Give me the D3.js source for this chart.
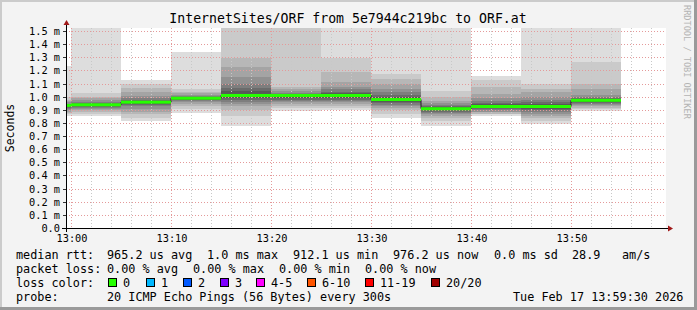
<!DOCTYPE html>
<html>
<head>
<meta charset="utf-8">
<script src="https://cdn.jsdelivr.net/npm/d3@7"></script>
<style>
  body { margin: 0; background: #f3f3f3; }
  text { font-family: "DejaVu Sans Mono", monospace; fill: #000; white-space: pre; }
</style>
</head>
<body>
<div id="chart"></div>
<script>
// step end times (each step covers the 5 minutes before it)
var stepTimes = ["12:55","13:00","13:05","13:10","13:15","13:20","13:25","13:30","13:35","13:40","13:45","13:50","13:55"];
// median rtt per step, ms
var medianRtt = [0.937, 0.942, 0.962, 0.992, 1.013, 1.013, 1.013, 0.982, 0.912, 0.929, 0.929, 0.976];
// 20 sorted pings per step, ms (high -> low)
var pings = [
  [1.241, 1.00, 0.98, 0.97, 0.96, 0.95, 0.945, 0.94, 0.938, 0.937, 0.935, 0.93, 0.925, 0.92, 0.91, 0.90, 0.89, 0.88, 0.87, 0.86],
  [1.90, 1.03, 1.00, 0.99, 0.975, 0.965, 0.955, 0.95, 0.945, 0.942, 0.94, 0.935, 0.93, 0.925, 0.92, 0.91, 0.90, 0.89, 0.875, 0.86],
  [1.127, 1.10, 1.07, 1.04, 1.01, 0.99, 0.98, 0.97, 0.965, 0.962, 0.96, 0.955, 0.95, 0.94, 0.93, 0.91, 0.89, 0.87, 0.84, 0.817],
  [1.342, 1.065, 1.04, 1.03, 1.02, 1.01, 1.005, 1.00, 0.995, 0.992, 0.99, 0.985, 0.98, 0.975, 0.97, 0.96, 0.95, 0.93, 0.91, 0.882],
  [1.90, 1.60, 1.30, 1.228, 1.15, 1.10, 1.07, 1.045, 1.025, 1.013, 1.01, 1.00, 0.99, 0.975, 0.96, 0.945, 0.93, 0.90, 0.86, 0.777],
  [1.90, 1.60, 1.08, 1.06, 1.045, 1.035, 1.025, 1.02, 1.016, 1.013, 1.01, 1.00, 0.99, 0.98, 0.97, 0.96, 0.945, 0.93, 0.915, 0.898],
  [1.90, 1.30, 1.19, 1.114, 1.08, 1.06, 1.04, 1.03, 1.02, 1.013, 1.01, 1.00, 0.99, 0.98, 0.97, 0.96, 0.945, 0.93, 0.915, 0.904],
  [1.90, 1.178, 1.14, 1.10, 1.064, 1.04, 1.02, 1.005, 0.99, 0.982, 0.98, 0.975, 0.965, 0.955, 0.94, 0.93, 0.915, 0.90, 0.875, 0.84],
  [1.90, 1.05, 1.00, 0.97, 0.955, 0.94, 0.93, 0.922, 0.916, 0.912, 0.91, 0.905, 0.90, 0.89, 0.88, 0.87, 0.86, 0.845, 0.82, 0.784],
  [1.165, 1.127, 1.08, 1.025, 0.99, 0.97, 0.955, 0.945, 0.935, 0.929, 0.927, 0.925, 0.92, 0.91, 0.90, 0.89, 0.885, 0.875, 0.87, 0.86],
  [1.90, 1.10, 1.06, 1.038, 1.00, 0.98, 0.96, 0.945, 0.935, 0.929, 0.925, 0.92, 0.91, 0.90, 0.89, 0.875, 0.86, 0.84, 0.82, 0.797],
  [1.90, 1.266, 1.10, 1.06, 1.013, 1.00, 0.99, 0.985, 0.98, 0.976, 0.972, 0.965, 0.96, 0.955, 0.95, 0.94, 0.93, 0.92, 0.91, 0.898]
];
var yTicks = [0, 0.1, 0.2, 0.3, 0.4, 0.5, 0.6, 0.7, 0.8, 0.9, 1.0, 1.1, 1.2, 1.3, 1.4, 1.5];
var lossLabels = ["0", "1", "2", "3", "4-5", "6-10", "11-19", "20/20"];
var lossColors = ["#26ff00", "#00b8ff", "#0059ff", "#7e00ff", "#ff00ff", "#ff5500", "#ff0000", "#a00000"];
var lossX = [108, 146, 183, 220, 256, 307, 365, 431];
var legendRows = [
  [["median rtt:", 16], ["965.2 us avg", 107], ["1.0 ms max", 207], ["912.1 us min", 293], ["976.2 us now", 393], ["0.0 ms sd", 494], ["28.9", 572], ["am/s", 622]],
  [["packet loss:", 16], ["0.00 % avg", 107], ["0.00 % max", 193], ["0.00 % min", 279], ["0.00 % now", 365]],
  [["loss color:", 16]],
  [["probe:", 16], ["20 ICMP Echo Pings (56 Bytes) every 300s", 107], ["Tue Feb 17 13:59:30 2026", 513]]
];

function draw(){
    var W = 697, H = 310;
    var left = 66, right = 666, top = 28, bottom = 228;
    var parse = d3.timeParse("%H:%M");
    var x = d3.scaleTime()
        .domain([parse("12:59"), parse("13:59")].map(function(d){ return new Date(+d + 30000); }))
        .range([left, right]);
    var y = d3.scaleLinear()
        .domain([0, 200 / 131.33])
        .range([bottom + 0.5, top + 0.5]);

    var svg = d3.select("#chart").append("svg")
        .attr("width", W).attr("height", H);

    // frame
    svg.append("rect").attr("width", W).attr("height", H).attr("fill", "#f3f3f3");
    svg.append("path").attr("d", "M0,0H" + W + "V2H2V" + H + "H0Z").attr("fill", "#cbcbcb");
    svg.append("path").attr("d", "M" + W + ",0V" + H + "H0V" + (H - 3) + "H" + (W - 3) + "V0Z").attr("fill", "#9a9a9a");

    // plot area
    svg.append("rect").attr("x", left).attr("y", top)
        .attr("width", right - left).attr("height", bottom - top).attr("fill", "#fff");

    svg.append("clipPath").attr("id", "plot")
      .append("rect").attr("x", left).attr("y", top)
        .attr("width", right - left).attr("height", bottom - top);

    // smoke
    var steps = stepTimes.slice(1).map(function(t, i){
        return { t0: parse(stepTimes[i]), t1: parse(t), med: medianRtt[i], p: pings[i] };
    });
    var smoke = svg.append("g").attr("clip-path", "url(#plot)");
    steps.forEach(function(s){
        for (var i = 0; i < 10; i++) {
            var c = Math.floor(190 / 10 * (10 - (i + 1))) + 50;
            smoke.append("rect")
                .attr("x", x(s.t0))
                .attr("width", x(s.t1) - x(s.t0))
                .attr("y", Math.round(y(s.p[i])))
                .attr("height", Math.round(y(s.p[19 - i])) - Math.round(y(s.p[i])))
                .attr("fill", d3.rgb(c, c, c));
        }
    });

    // grid
    var grid = svg.append("g");
    d3.timeMinute.every(2).range(x.domain()[0], x.domain()[1]).forEach(function(t){
        var major = t.getMinutes() % 10 === 0;
        grid.append("line")
            .attr("x1", Math.round(x(t)) + 0.5).attr("x2", Math.round(x(t)) + 0.5)
            .attr("y1", top).attr("y2", bottom)
            .attr("stroke", major ? "#e49a9a" : "#c8c8c8")
            .attr("stroke-dasharray", "1,2");
    });
    yTicks.slice(1).forEach(function(v){
        var yy = Math.round(y(v) - 0.5) + 0.5;
        grid.append("line")
            .attr("x1", left).attr("x2", right)
            .attr("y1", yy).attr("y2", yy)
            .attr("stroke", "#e49a9a")
            .attr("stroke-dasharray", "1,2");
        grid.append("line")
            .attr("x1", left - 3).attr("x2", left)
            .attr("y1", yy).attr("y2", yy)
            .attr("stroke", "#333");
    });

    // median: black step line + loss colored band
    var medPts = [];
    steps.forEach(function(s){
        medPts.push([Math.max(x(s.t0), left), y(s.med)]);
        medPts.push([x(s.t1), y(s.med)]);
    });
    svg.append("path")
        .attr("d", d3.line()(medPts))
        .attr("fill", "none").attr("stroke", "#202020").attr("stroke-width", 1);
    steps.forEach(function(s){
        var x0 = Math.max(x(s.t0), left);
        svg.append("rect")
            .attr("x", x0).attr("width", x(s.t1) - x0)
            .attr("y", y(s.med) - 1.5).attr("height", 3)
            .attr("fill", lossColors[0]);
    });

    // axes
    svg.append("line").attr("x1", left - 4).attr("x2", right + 2)
        .attr("y1", bottom + 0.5).attr("y2", bottom + 0.5).attr("stroke", "#000");
    svg.append("line").attr("x1", left + 0.5).attr("x2", left + 0.5)
        .attr("y1", bottom + 4).attr("y2", top - 4).attr("stroke", "#000");
    svg.append("path").attr("d", "M" + (right + 2) + "," + (bottom - 2.5) + "L" + (right + 7) + "," + (bottom + 0.5) + "L" + (right + 2) + "," + (bottom + 3.5) + "Z")
        .attr("fill", "#a01818");
    svg.append("path").attr("d", "M" + (left - 2.5) + "," + (top - 3) + "L" + (left + 0.5) + "," + (top - 8) + "L" + (left + 3.5) + "," + (top - 3) + "Z")
        .attr("fill", "#a01818");

    var fmt = d3.format(".1f");
    svg.selectAll("text.ytick").data(yTicks).enter().append("text")
        .attr("class", "ytick")
        .attr("x", 60).attr("y", function(d){ return y(d) + 3.5; })
        .attr("text-anchor", "end")
        .style("font-size", "10.3px")
        .text(function(d){ return d === 0 ? "0.0" : fmt(d) + " m"; });

    svg.selectAll("text.xtick").data(d3.timeMinute.every(10).range(x.domain()[0], x.domain()[1])).enter().append("text")
        .attr("class", "xtick")
        .attr("x", function(d){ return x(d) + 1; }).attr("y", 242)
        .attr("text-anchor", "middle")
        .style("font-size", "10.3px")
        .text(d3.timeFormat("%H:%M"));

    // titles
    svg.append("text").attr("x", 348).attr("y", 23)
        .attr("text-anchor", "middle").style("font-size", "13.2px")
        .text("InternetSites/ORF from 5e7944c219bc to ORF.at");
    svg.append("text")
        .attr("transform", "translate(14,128) rotate(-90)")
        .attr("text-anchor", "middle").style("font-size", "11.5px")
        .text("Seconds");
    svg.append("text")
        .attr("transform", "translate(683.5,5) rotate(90)")
        .style("font-size", "8.6px").style("fill", "#b4b4b4")
        .text("RRDTOOL / TOBI OETIKER");

    // legend
    legendRows.forEach(function(row, r){
        row.forEach(function(item){
            svg.append("text")
                .attr("x", item[1]).attr("y", 258.5 + r * 14)
                .style("font-size", "11.8px")
                .text(item[0]);
        });
    });
    lossLabels.forEach(function(l, i){
        svg.append("rect")
            .attr("x", lossX[i] + 0.5).attr("y", 278.5)
            .attr("width", 8).attr("height", 8)
            .attr("fill", lossColors[i]).attr("stroke", "#000");
        svg.append("text")
            .attr("x", lossX[i] + 15).attr("y", 286.5)
            .style("font-size", "11.8px")
            .text(l);
    });
}
draw();
</script>
</body>
</html>
